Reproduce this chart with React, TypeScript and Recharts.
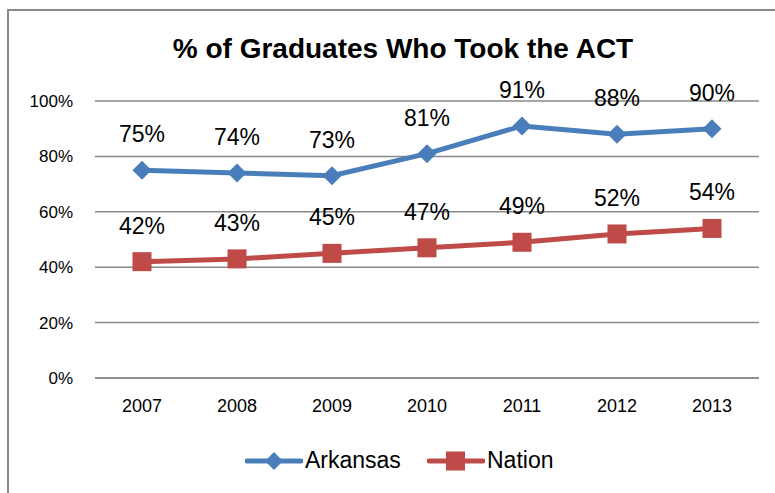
import { LineChart, Line, XAxis, YAxis, CartesianGrid, LabelList } from 'recharts';

const years = ['2007', '2008', '2009', '2010', '2011', '2012', '2013'];
const arkansas = [75, 74, 73, 81, 91, 88, 90];
const nation = [42, 43, 45, 47, 49, 52, 54];
const yTicks = [0, 20, 40, 60, 80, 100];

const BLUE = '#4A7EBB';
const RED = '#BE4B48';
const GRID = '#898989';
const FONT = '"Liberation Sans", Arial, sans-serif';

const data = years.map((year, i) => ({ year, arkansas: arkansas[i], nation: nation[i] }));

function Diamond(props: any) {
  const { cx, cy } = props;
  if (cx == null || cy == null) return null;
  const r = 9.5;
  return <polygon points={`${cx},${cy - r} ${cx + r},${cy} ${cx},${cy + r} ${cx - r},${cy}`} fill={BLUE} />;
}

function Square(props: any) {
  const { cx, cy } = props;
  if (cx == null || cy == null) return null;
  const r = 9.5;
  return <rect x={cx - r} y={cy - r} width={r * 2} height={r * 2} fill={RED} />;
}

// legend drawn by hand so it doesn't eat into the plot area
function LegendItem({ name, color, shape, left }: { name: string; color: string; shape: string; left: number }) {
  return (
    <div style={{ position: 'absolute', left, top: 447, display: 'flex', alignItems: 'center', fontFamily: FONT, fontSize: 23 }}>
      <svg width={58} height={26}>
        <line x1={2} y1={13} x2={56} y2={13} stroke={color} strokeWidth={5} strokeLinecap="round" />
        {shape === 'diamond' ? (
          <polygon points="29,4 38,13 29,22 20,13" fill={color} />
        ) : (
          <rect x={19} y={3.5} width={19} height={19} fill={color} />
        )}
      </svg>
      <span style={{ marginLeft: 2, color: '#000' }}>{name}</span>
    </div>
  );
}

export default function App() {
  return (
    <div style={{ position: 'absolute', left: 0, top: 0, width: 775, height: 493, overflow: 'hidden', background: '#fff' }}>
      <div
        style={{
          position: 'absolute',
          left: 7,
          top: 9,
          width: 820,
          height: 520,
          border: `2px solid ${GRID}`,
        }}
      />
      <div
        style={{
          position: 'absolute',
          left: 0,
          top: 33,
          width: 806,
          textAlign: 'center',
          fontFamily: FONT,
          fontWeight: 'bold',
          fontSize: 28,
          color: '#000',
        }}
      >
        % of Graduates Who Took the ACT
      </div>
      <div style={{ position: 'absolute', left: 0, top: 0 }}>
        <LineChart width={775} height={493} data={data} margin={{ top: 101, right: 16, bottom: 85, left: 0 }}>
          <CartesianGrid vertical={false} stroke={GRID} strokeWidth={1.5} />
          <XAxis
            dataKey="year"
            padding={{ left: 47, right: 47 }}
            axisLine={{ stroke: GRID, strokeWidth: 1.5 }}
            tickLine={false}
            tickSize={0}
            tickMargin={21}
            tick={{ fill: '#000', fontSize: 18, fontFamily: FONT }}
            height={30}
          />
          <YAxis
            width={95}
            domain={[0, 100]}
            ticks={yTicks}
            tickFormatter={(v) => `${v}%`}
            axisLine={false}
            tickLine={false}
            tickSize={0}
            tickMargin={22}
            tick={{ fill: '#000', fontSize: 17, fontFamily: FONT }}
          />
          <Line
            dataKey="arkansas"
            name="Arkansas"
            stroke={BLUE}
            strokeWidth={5}
            dot={<Diamond />}
            activeDot={false}
            isAnimationActive={false}
          >
            <LabelList dataKey="arkansas" position="top" offset={28} formatter={(v: any) => `${v}%`} style={{ fill: '#000', fontSize: 23, fontFamily: FONT }} />
          </Line>
          <Line
            dataKey="nation"
            name="Nation"
            stroke={RED}
            strokeWidth={5}
            dot={<Square />}
            activeDot={false}
            isAnimationActive={false}
          >
            <LabelList dataKey="nation" position="top" offset={28} formatter={(v: any) => `${v}%`} style={{ fill: '#000', fontSize: 23, fontFamily: FONT }} />
          </Line>
        </LineChart>
      </div>
      <LegendItem name="Arkansas" color={BLUE} shape="diamond" left={245} />
      <LegendItem name="Nation" color={RED} shape="square" left={427} />
    </div>
  );
}
